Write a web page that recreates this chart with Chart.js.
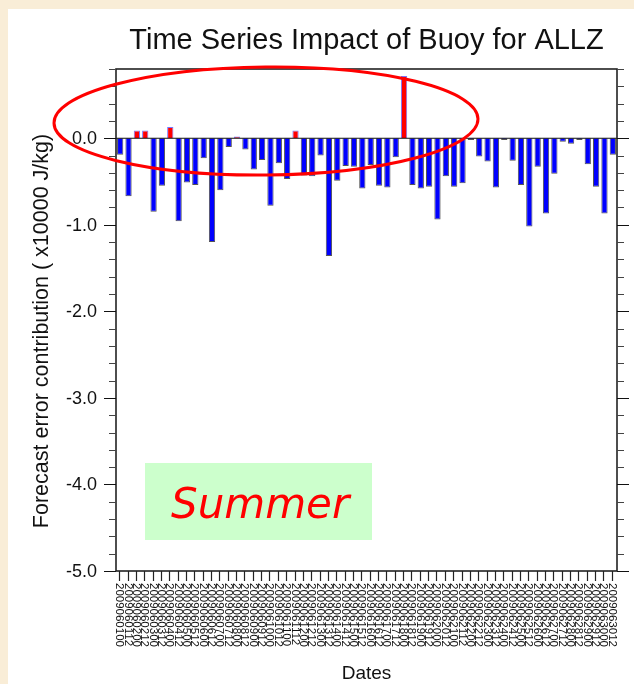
<!DOCTYPE html>
<html>
<head>
<meta charset="utf-8">
<script src="https://cdn.jsdelivr.net/npm/chart.js@4.4.1/dist/chart.umd.min.js"></script>
<style>
  html, body { margin: 0; padding: 0; background: #f9edd7; }
  #wrap { width: 634px; height: 684px; position: relative; }
</style>
</head>
<body>
<div id="wrap"><canvas id="impactChart" width="634" height="684"></canvas></div>
<script>
// analysis times (YYYYMMDDHH), two per day
const dates = [
  '2009060100', '2009060112', '2009060200', '2009060212', '2009060300', '2009060312', '2009060400', '2009060412', '2009060500', '2009060512',
  '2009060600', '2009060612', '2009060700', '2009060712', '2009060800', '2009060812', '2009060900', '2009060912', '2009061000', '2009061012',
  '2009061100', '2009061112', '2009061200', '2009061212', '2009061300', '2009061312', '2009061400', '2009061412', '2009061500', '2009061512',
  '2009061600', '2009061612', '2009061700', '2009061712', '2009061800', '2009061812', '2009061900', '2009061912', '2009062000', '2009062012',
  '2009062100', '2009062112', '2009062200', '2009062212', '2009062300', '2009062312', '2009062400', '2009062412', '2009062500', '2009062512',
  '2009062600', '2009062612', '2009062700', '2009062712', '2009062800', '2009062812', '2009062900', '2009062912', '2009063000', '2009063012'
];

// forecast error contribution, x10000 J/kg
const impact = [
  -0.19, -0.67, 0.09, 0.09, -0.85, -0.55, 0.13, -0.96, -0.51, -0.54,
  -0.23, -1.20, -0.60, -0.10, 0.02, -0.13, -0.36, -0.25, -0.78, -0.29,
  -0.47, 0.09, -0.43, -0.44, -0.20, -1.36, -0.49, -0.32, -0.33, -0.58,
  -0.31, -0.55, -0.57, -0.22, 0.72, -0.54, -0.58, -0.56, -0.94, -0.44,
  -0.56, -0.52, -0.02, -0.21, -0.27, -0.57, -0.02, -0.26, -0.54, -1.02,
  -0.33, -0.87, -0.41, -0.04, -0.065, -0.02, -0.30, -0.56, -0.87, -0.19
];

const yTicks = [0, -1, -2, -3, -4, -5];
const yMin = -5;
const yMax = 0.8;

const FONT = '"Liberation Sans", Arial, Helvetica, sans-serif';

// everything NCL-style around the plot: frame, outward ticks, labels, titles
const decorations = {
  id: 'decorations',
  beforeDraw(chart) {
    const ctx = chart.ctx;
    ctx.save();
    ctx.fillStyle = '#f9edd7';
    ctx.fillRect(0, 0, chart.width, chart.height);
    ctx.fillStyle = '#ffffff';
    ctx.fillRect(8, 9, chart.width - 8, chart.height - 9);
    ctx.restore();
  },
  afterDatasetsDraw(chart) {
    const ctx = chart.ctx;
    const { left, right, top, bottom } = chart.chartArea;
    const xs = chart.scales.x;
    const ys = chart.scales.y;

    ctx.save();
    // zero reference line
    const y0 = ys.getPixelForValue(0);
    ctx.strokeStyle = '#111';
    ctx.lineWidth = 1.2;
    ctx.beginPath();
    ctx.moveTo(left, y0);
    ctx.lineTo(right, y0);
    ctx.stroke();

    // frame
    ctx.strokeStyle = '#222';
    ctx.lineWidth = 1.6;
    ctx.strokeRect(left, top, right - left, bottom - top);

    // y ticks, major and minor, on both sides
    ctx.lineWidth = 1.2;
    for (let v = yMin; v <= yMax + 1e-6; v += 0.2) {
      const y = Math.round(ys.getPixelForValue(v)) + 0.5;
      const major = Math.abs(v - Math.round(v)) < 1e-6;
      const len = major ? 12 : 7;
      ctx.strokeStyle = major ? '#111' : '#444';
      ctx.beginPath();
      ctx.moveTo(left - len, y);
      ctx.lineTo(left, y);
      ctx.moveTo(right, y);
      ctx.lineTo(right + len, y);
      ctx.stroke();
    }

    // y tick labels
    ctx.fillStyle = '#111';
    ctx.font = '18px ' + FONT;
    ctx.textAlign = 'right';
    ctx.textBaseline = 'middle';
    yTicks.forEach(v => {
      ctx.fillText(v.toFixed(1), left - 19, ys.getPixelForValue(v) + 1);
    });

    // x ticks and vertical date labels
    ctx.strokeStyle = '#222';
    ctx.lineWidth = 1.2;
    ctx.font = '11.5px ' + FONT;
    ctx.textAlign = 'left';
    ctx.textBaseline = 'middle';
    dates.forEach((d, i) => {
      const x = Math.round(xs.getPixelForTick(i)) - 0.5;
      ctx.beginPath();
      ctx.moveTo(x, bottom);
      ctx.lineTo(x, bottom + 10);
      ctx.stroke();
      ctx.save();
      ctx.translate(x, bottom + 12);
      ctx.rotate(Math.PI / 2);
      ctx.fillText(d, 0, 0);
      ctx.restore();
    });

    // titles
    ctx.textAlign = 'center';
    ctx.textBaseline = 'alphabetic';
    ctx.font = '29px ' + FONT;
    ctx.fillText('Time Series Impact of Buoy for ALLZ', (left + right) / 2, 49);
    ctx.font = '19px ' + FONT;
    ctx.fillText('Dates', (left + right) / 2, 679);
    ctx.save();
    ctx.translate(48, 331);
    ctx.rotate(-Math.PI / 2);
    ctx.font = '21.5px ' + FONT;
    ctx.fillText('Forecast error contribution ( x10000 J/kg)', 0, 0);
    ctx.restore();

    // season tag
    ctx.fillStyle = '#ccffcc';
    ctx.fillRect(145, 463, 227, 77);
    ctx.fillStyle = '#ff0000';
    ctx.font = 'oblique 42px "DejaVu Sans", sans-serif';
    ctx.textAlign = 'left';
    ctx.fillText('Summer', 171, 518);

    // highlight around the positive contributions
    ctx.strokeStyle = '#ff0000';
    ctx.lineWidth = 3;
    ctx.beginPath();
    ctx.ellipse(266, 121, 212, 54, -0.01, 0, Math.PI * 2);
    ctx.stroke();
    ctx.restore();
  }
};

new Chart(document.getElementById('impactChart').getContext('2d'), {
  type: 'bar',
  data: {
    labels: dates,
    datasets: [{
      data: impact,
      backgroundColor: impact.map(v => v > 0 ? '#ff0000' : '#0000ff'),
      borderColor: impact.map(v => v > 0 ? '#7777ff' : '#555555'),
      borderWidth: 1,
      borderSkipped: 'start',
      barPercentage: 0.75,
      categoryPercentage: 1.0,
    }],
  },
  options: {
    responsive: false,
    animation: false,
    layout: { padding: { top: 69, right: 17, left: 0, bottom: 0 } },
    plugins: {
      legend: { display: false },
      title: { display: false },
      tooltip: { enabled: false },
    },
    scales: {
      x: {
        type: 'category',
        offset: true,
        grid: { display: false },
        border: { display: false },
        ticks: { display: false, autoSkip: false },
        afterFit: s => { s.height = 113; },
      },
      y: {
        min: yMin,
        max: yMax,
        grid: { display: false },
        border: { display: false },
        ticks: { display: false },
        afterBuildTicks: s => { s.ticks = yTicks.map(v => ({ value: v })); },
        afterFit: s => { s.width = 116; },
      },
    },
  },
  plugins: [decorations],
});
</script>
</body>
</html>
